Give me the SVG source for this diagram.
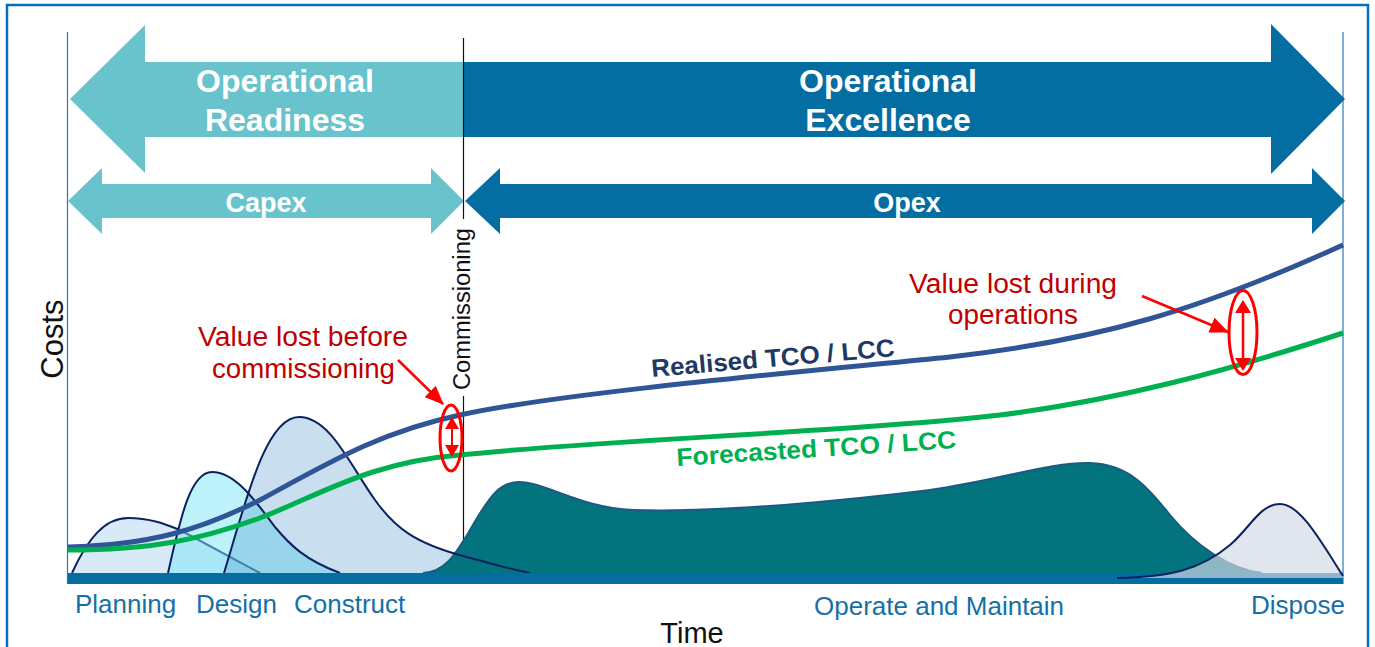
<svg xmlns="http://www.w3.org/2000/svg" width="1375" height="647" viewBox="0 0 1375 647">
<style>
.hdr{font-family:"Liberation Sans",Arial,sans-serif;font-weight:bold;fill:#ffffff;text-anchor:middle}
.lbl{font-family:"Liberation Sans",Arial,sans-serif;fill:#1570A6;font-size:26px}
.red{font-family:"Liberation Sans",Arial,sans-serif;fill:#C00000;font-size:27px;text-anchor:middle}
.ax{font-family:"Liberation Sans",Arial,sans-serif;fill:#111111}
.crv{stroke:#0B2160;stroke-width:2;fill:none}
.ell{fill:none;stroke:#FF0000;stroke-width:3}
.ptr{stroke:#FF0000;stroke-width:2.5;fill:none;marker-end:url(#ah)}
</style>
<defs>
<marker id="ah" markerUnits="userSpaceOnUse" markerWidth="20" markerHeight="16" viewBox="0 0 20 16" refX="18" refY="8" orient="auto">
<path d="M0,0 L19,8 L0,16 Z" fill="#FF0000"/>
</marker>
</defs>
<rect x="0" y="0" width="1375" height="647" fill="#ffffff"/>
<rect id="frame" x="7" y="5" width="1361" height="660" fill="none" stroke="#0070C0" stroke-width="2.5"/>

<g id="axes">
<line x1="67.5" y1="32" x2="67.5" y2="584" stroke="#2E75B6" stroke-width="1.2"/>
<line x1="1343" y1="32" x2="1343" y2="584" stroke="#2E75B6" stroke-width="1.2"/>
</g>

<g id="operational-readiness">
<polygon points="70,99 145,25 145,62 464,62 464,137 145,137 145,173" fill="#69C3CD"/>
<text class="hdr" x="285" y="92" font-size="32">Operational</text>
<text class="hdr" x="285" y="131" font-size="32">Readiness</text>
</g>
<g id="operational-excellence">
<polygon points="464,62 1271,62 1271,24 1345,99 1271,174 1271,137 464,137" fill="#046DA2"/>
<text class="hdr" x="888" y="92" font-size="32">Operational</text>
<text class="hdr" x="888" y="131" font-size="32">Excellence</text>
</g>
<g id="capex">
<polygon points="68,201 102,168 102,184 431,184 431,168 464,201 431,234 431,218 102,218 102,234" fill="#69C3CD"/>
<text class="hdr" x="266" y="212" font-size="27">Capex</text>
</g>
<g id="opex">
<polygon points="465,201 500,168 500,184 1312,184 1312,168 1345,201 1312,234 1312,218 500,218 500,234" fill="#046DA2"/>
<text class="hdr" x="907" y="212" font-size="27">Opex</text>
</g>

<g id="commissioning">
<line x1="463.5" y1="38" x2="463.5" y2="219" stroke="#111111" stroke-width="1.2"/>
<line x1="463.5" y1="396" x2="463.5" y2="578" stroke="#111111" stroke-width="1.2"/>
<text class="ax" transform="translate(470,309) rotate(-90)" text-anchor="middle" font-size="23" textLength="162" lengthAdjust="spacingAndGlyphs">Commissioning</text>
</g>

<g id="planning">
<path d="M72,573 C88,538 105,518 128,518 C150,518 165,524 180,530 L260,573 Z" fill="#D8EAF8"/>
<path class="crv" d="M72,573 C88,538 105,518 128,518 C150,518 165,524 180,530 L260,573"/>
</g>
<g id="design">
<path d="M168,573 C180,520 190,472 212,472 C235,472 255,500 275,527 C290,545 305,560 340,573 Z" fill="#7DE6F5" fill-opacity="0.5"/>
</g>
<g id="construct">
<path d="M224,573 C245,505 265,417 299,417 C330,417 350,465 375,500 C395,528 415,543 463,556 C490,563 505,568 530,573 Z" fill="#2B7DBC" fill-opacity="0.254"/>
</g>
<g id="operate">
<path d="M423,573 C445,572 455,555 470,530 C490,495 500,482 519,482 C545,482 580,508 633,510 C720,513 850,500 930,490 C1000,480 1050,462 1090,463 C1130,464 1150,490 1170,515 C1195,545 1230,570 1262,573 Z" fill="#03737E"/>
<path d="M423,573 C445,572 455,555 470,530 C490,495 500,482 519,482 C545,482 580,508 633,510 C720,513 850,500 930,490 C1000,480 1050,462 1090,463 C1130,464 1150,490 1170,515 C1195,545 1230,570 1262,573" fill="none" stroke="#1A5A84" stroke-width="2"/>
</g>
<g id="curve-strokes">
<path class="crv" d="M168,573 C180,520 190,472 212,472 C235,472 255,500 275,527 C290,545 305,560 340,573"/>
<path class="crv" d="M224,573 C245,505 265,417 299,417 C330,417 350,465 375,500 C395,528 415,543 463,556 C490,563 505,568 530,573"/>
</g>
<g id="time-bar">
<rect x="68" y="573" width="1275" height="11" fill="#046DA2"/>
</g>
<g id="dispose">
<path d="M1117,578 C1170,577 1200,570 1230,545 C1250,528 1260,504 1280,504 C1300,504 1320,540 1343,576 L1343,578 Z" fill="#D2D8E6" fill-opacity="0.675"/>
<path class="crv" d="M1117,578 C1170,577 1200,570 1230,545 C1250,528 1260,504 1280,504 C1300,504 1320,540 1343,576"/>
</g>

<g id="realised-tco">
<path d="M68,547 C150,545 200,530 260,500 C330,462 380,432 460,415 C560,393 800,372 950,357 C1100,340 1200,310 1343,245" fill="none" stroke="#2F5597" stroke-width="5"/>
<text transform="rotate(-4.9 652 377)" x="652" y="377" font-family="Liberation Sans, Arial, sans-serif" font-weight="bold" font-size="25" fill="#1F3864" textLength="244" lengthAdjust="spacingAndGlyphs">Realised TCO / LCC</text>
</g>
<g id="forecasted-tco">
<path d="M68,550 C150,550 200,540 260,518 C320,495 370,462 460,455 C600,440 850,432 1000,415 C1120,400 1230,370 1343,333" fill="none" stroke="#00B050" stroke-width="5"/>
<text transform="rotate(-3.7 677 466)" x="677" y="466" font-family="Liberation Sans, Arial, sans-serif" font-weight="bold" font-size="25" fill="#00B050" textLength="280" lengthAdjust="spacingAndGlyphs">Forecasted TCO / LCC</text>
</g>

<g id="value-lost-before">
<text class="red" x="303" y="346" textLength="210" lengthAdjust="spacingAndGlyphs">Value lost before</text>
<text class="red" x="303.5" y="378" textLength="183" lengthAdjust="spacingAndGlyphs">commissioning</text>
<ellipse class="ell" cx="451" cy="438" rx="11" ry="33"/>
<line x1="452" y1="428" x2="452" y2="446" stroke="#FF0000" stroke-width="2"/>
<polygon points="452,417 445,429 459,429" fill="#FF0000"/>
<polygon points="452,457 445,445 459,445" fill="#FF0000"/>
</g>
<g id="value-lost-during">
<text class="red" x="1013" y="293" textLength="208" lengthAdjust="spacingAndGlyphs">Value lost during</text>
<text class="red" x="1013" y="324" textLength="130" lengthAdjust="spacingAndGlyphs">operations</text>
<ellipse class="ell" cx="1243" cy="332.5" rx="14" ry="42"/>
<line x1="1243" y1="312" x2="1243" y2="359" stroke="#FF0000" stroke-width="2.5"/>
<polygon points="1243,300 1235,313 1251,313" fill="#FF0000"/>
<polygon points="1243,371 1235,358 1251,358" fill="#FF0000"/>
</g>

<g id="connectors">
<line class="ptr" x1="398" y1="360" x2="443" y2="404"/>
<line class="ptr" x1="1142" y1="296" x2="1228" y2="332"/>
</g>

<g id="labels">
<text class="lbl" x="75" y="613">Planning</text>
<text class="lbl" x="196" y="613">Design</text>
<text class="lbl" x="294" y="613">Construct</text>
<text class="lbl" x="814" y="615">Operate and Maintain</text>
<text class="lbl" x="1345" y="614" text-anchor="end">Dispose</text>
<text class="ax" transform="translate(63,339) rotate(-90)" text-anchor="middle" font-size="31">Costs</text>
<text class="ax" x="692" y="643" text-anchor="middle" font-size="29">Time</text>
</g>
</svg>
